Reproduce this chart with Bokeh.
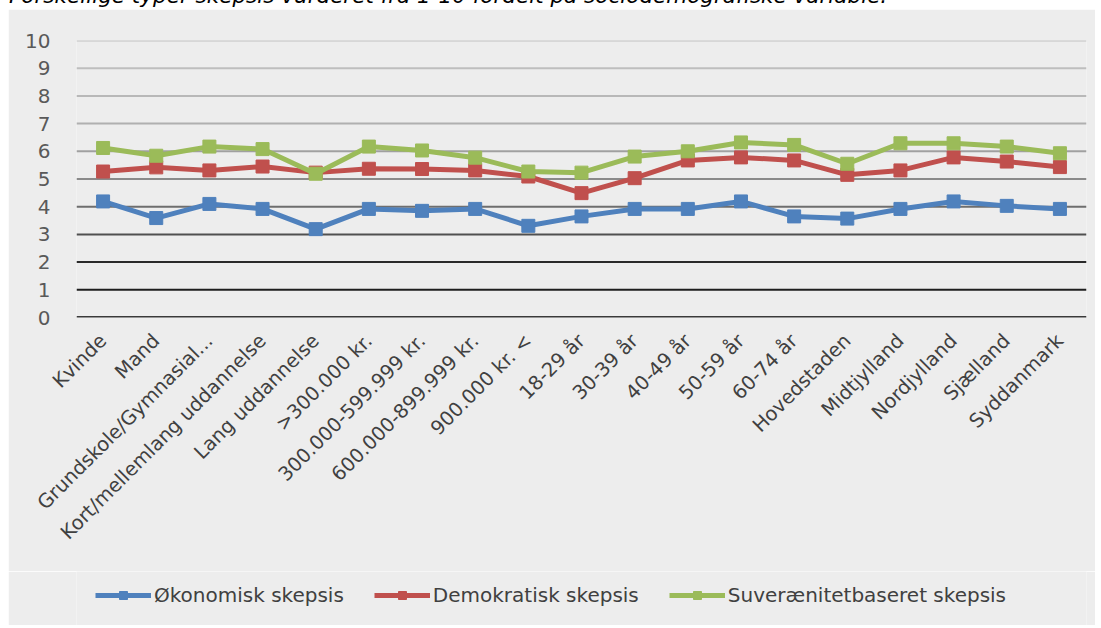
import math
from bokeh.plotting import figure
from bokeh.models import Span, Legend, LegendItem, Div, FixedTicker, FactorRange, Range1d
from bokeh.layouts import column
from bokeh.embed import file_html
from bokeh.resources import INLINE

caption = "Forskellige typer skepsis vurderet fra 1-10 fordelt på sociodemografiske variable."

categories = ["Kvinde", "Mand", "Grundskole/Gymnasial...", "Kort/mellemlang uddannelse",
              "Lang uddannelse", ">300.000 kr.", "300.000-599.999 kr.", "600.000-899.999 kr.",
              "900.000 kr. <", "18-29 år", "30-39 år", "40-49 år", "50-59 år", "60-74 år",
              "Hovedstaden", "Midtjylland", "Nordjylland", "Sjælland", "Syddanmark"]

okonomisk = [4.19, 3.59, 4.10, 3.92, 3.19, 3.92, 3.85, 3.92, 3.31, 3.65,
             3.92, 3.92, 4.19, 3.65, 3.57, 3.92, 4.19, 4.03, 3.92]
demokratisk = [5.27, 5.42, 5.31, 5.45, 5.23, 5.37, 5.36, 5.31, 5.09, 4.49,
               5.03, 5.67, 5.78, 5.67, 5.15, 5.31, 5.78, 5.63, 5.43]
suveraenitet = [6.12, 5.84, 6.17, 6.08, 5.19, 6.17, 6.03, 5.77, 5.27, 5.23,
                5.81, 6.00, 6.32, 6.23, 5.55, 6.29, 6.29, 6.17, 5.93]

series_names = ["Økonomisk skepsis", "Demokratisk skepsis", "Suverænitetbaseret skepsis"]
y_ticks = [0, 1, 2, 3, 4, 5, 6, 7, 8, 9, 10]

# styles
series_colors = ["#4F81BD", "#C0504D", "#9BBB59"]
grid_colors = ["#3a3a3a", "#1e1e1e", "#2a2a2a", "#505050", "#6e6e6e", "#8a8a8a",
               "#a0a0a0", "#b0b0b0", "#b8b8b8", "#bebebe", "#c2c2c2"]
grid_widths = [3, 2, 2, 2, 2, 2, 2, 2, 2, 2, 2]
FONT = "DejaVu Sans"
BG = "#ededed"
W = 1087

p = figure(x_range=FactorRange(*categories, range_padding=0), y_range=Range1d(0, 10),
           width=W, height=562, output_backend="svg", toolbar_location=None,
           min_border_left=68, min_border_right=9, min_border_top=31, min_border_bottom=254)
p.background_fill_color = BG
p.border_fill_color = BG
p.outline_line_color = None
p.xgrid.grid_line_color = None
p.ygrid.grid_line_color = None

for v, c, w in zip(y_ticks, grid_colors, grid_widths):
    p.add_layout(Span(location=v, dimension="width", line_color=c, line_width=w, level="underlay"))

for vals, col in zip([okonomisk, demokratisk, suveraenitet], series_colors):
    p.line(x=categories, y=vals, line_color=col, line_width=5)
    p.scatter(x=categories, y=vals, marker="square", size=13, fill_color=col, line_color=col)

p.yaxis.ticker = FixedTicker(ticks=y_ticks)
p.yaxis.axis_line_color = None
p.yaxis.major_tick_line_color = None
p.yaxis.minor_tick_line_color = None
p.yaxis.major_label_text_font = FONT
p.yaxis.major_label_text_font_size = "20px"
p.yaxis.major_label_text_color = "#595959"
p.yaxis.major_label_standoff = 20

p.xaxis.axis_line_color = None
p.xaxis.major_tick_line_color = None
p.xaxis.major_label_orientation = math.pi / 4
p.xaxis.major_label_text_font = FONT
p.xaxis.major_label_text_font_size = "19.5px"
p.xaxis.major_label_text_color = "#404040"
p.xaxis.major_label_standoff = 14

# legend strip below the chart
lg = figure(width=W, height=54, output_backend="svg", toolbar_location=None,
            x_axis_type=None, y_axis_type=None, x_range=Range1d(0, 1), y_range=Range1d(0, 1),
            min_border_left=68, min_border_right=9, min_border_top=0, min_border_bottom=0)
lg.background_fill_color = BG
lg.border_fill_color = BG
lg.outline_line_color = None
lg.xgrid.visible = False
lg.ygrid.visible = False
items = []
for name, col in zip(series_names, series_colors):
    # off-screen placeholder glyphs: only used to draw the legend swatches
    l = lg.line(x=[-5, -4], y=[-5, -4], line_color=col, line_width=5)
    s = lg.scatter(x=[-5], y=[-5], marker="square", size=13, fill_color=col, line_color=col)
    items.append(LegendItem(label=name, renderers=[l, s]))
legend = Legend(items=items, orientation="horizontal", location=(19, 18),
                label_text_font=FONT, label_text_font_size="20px", label_text_color="#404040",
                glyph_width=56, glyph_height=20, label_standoff=3, spacing=30,
                padding=0, margin=0, border_line_color=None, background_fill_alpha=0)
lg.add_layout(legend, "center")

cap = Div(text=('<span style="font-size:21.5px;line-height:20px;font-style:italic;'
                'font-family:DejaVu Sans;color:#000;white-space:nowrap;'
                'position:relative;top:2px;left:-4px">' + caption + '</span>'),
          width=W, height=20, styles={"margin-top": "-16px"})

layout = column(cap, p, lg, spacing=0, styles={"margin-left": "8px"})
open("out.html", "w").write(file_html(layout, INLINE))
